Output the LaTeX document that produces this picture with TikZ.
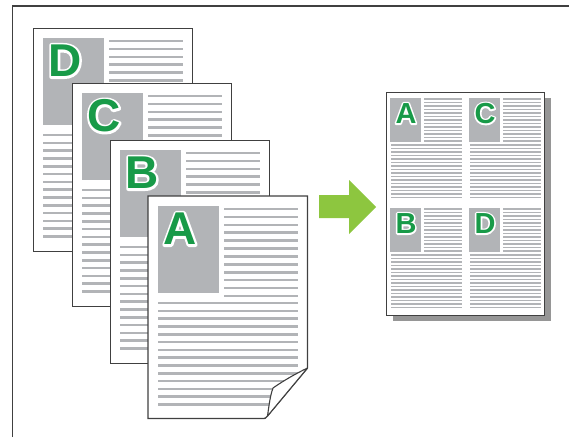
\documentclass[tikz,border=0pt]{standalone}
\usepackage{fontspec}
\setmainfont{Liberation Sans}
\usetikzlibrary{calc}

\definecolor{lettergreen}{RGB}{24,154,72}
\definecolor{arrowgreen}{RGB}{141,198,63}
\definecolor{textgray}{RGB}{178,180,183}
\definecolor{edgegray}{RGB}{64,64,64}
\definecolor{shadowgray}{RGB}{150,150,150}

% green letter with a white rim: name, position, size, rim width, letter
\newcommand{\pageletter}[5]{%
  \node[letter, text=white, font=\fontsize{#3}{#3}\selectfont\bfseries] at (#2)
    {\special{pdf:literal direct 1 1 1 RG #4 w 1 j 2 Tr}#5\special{pdf:literal direct 0 Tr}};
  \node[letter, font=\fontsize{#3}{#3}\selectfont\bfseries] (#1) at (#2) {#5};
}

% one full page of the stack: name, top left, letter
\newcommand{\stackpage}[3]{%
  \begin{scope}[shift={(#2)}]
    \node[page] (#1) at (0,0) {};
    \fill[textgray] (10,10) rectangle (71,97);
    \foreach \k in {0,...,11}
      \draw[textline] (76,13+7.9*\k) -- (150,13+7.9*\k);
    \foreach \k in {0,...,13}
      \draw[textline] (10,107+7.8*\k) -- (150,107+7.8*\k);
    \pageletter{#1letter}{32,33}{46}{4.4}{#3}
  \end{scope}
}

% one quarter of the 4-up page: name, top left, letter
\newcommand{\quarter}[3]{%
  \begin{scope}[shift={(#2)}]
    \fill[textgray] (0,0) rectangle (31,43.5);
    \foreach \k in {0,...,12}
      \draw[thinline] (34,0.9+3.5*\k) -- (72,0.9+3.5*\k);
    \foreach \k in {0,...,15}
      \draw[thinline] (1,47+3.5*\k) -- (72,47+3.5*\k);
    \pageletter{#1}{16,15.5}{29}{3.2}{#3}
  \end{scope}
}

\begin{document}
\begin{tikzpicture}[
  x=1pt, y=-1pt,
  page/.style={draw=edgegray, line width=1.3pt, fill=white, anchor=north west,
               inner sep=0, minimum width=159pt, minimum height=222.5pt},
  textline/.style={textgray, line width=2.6pt},
  thinline/.style={textgray, line width=1.6pt},
  letter/.style={text=lettergreen, inner sep=0},
  frame/.style={edgegray, line width=1.6pt}
]
  \useasboundingbox (0,0) rectangle (569,437);
  \draw[frame] (12.5,437) -- (12.5,6) -- (569,6);

  \stackpage{pageD}{33,28}{D}
  \stackpage{pageC}{72,83}{C}
  \stackpage{pageB}{110,140}{B}

  % front page with the curled corner
  \begin{scope}[shift={(148,196)}]
    \draw[draw=edgegray, line width=1.3pt, fill=white]
      (0,0) -- (159.5,0) -- (159.5,172) -- (119,220.5)
      .. controls (117.5,222.5) .. (113,222.5) -- (0,222.5) -- cycle;
    \begin{scope}
      \clip (0,0) -- (159.5,0) -- (159.5,172) -- (119,220.5) -- (113,222.5) -- (0,222.5) -- cycle;
      \fill[textgray] (10,10) rectangle (71,97);
      \foreach \k in {0,...,11}
        \draw[textline] (76,13+7.9*\k) -- (150,13+7.9*\k);
      \foreach \k in {0,...,13}
        \draw[textline] (10,107+7.8*\k) -- (150,107+7.8*\k);
    \end{scope}
    \draw[draw=edgegray, line width=1.1pt, fill=white, line join=round]
      (159.5,172) .. controls (147,178) and (135,185) .. (125,192)
      .. controls (122,200) and (121,210) .. (119.5,220) -- cycle;
    \pageletter{pageAletter}{32,33}{46}{4.4}{A}
  \end{scope}

  % arrow
  \fill[arrowgreen] (319,195) -- (349,195) -- (349,180) -- (376,207)
    -- (349,234) -- (349,218) -- (319,218) -- cycle;

  % 4-up result
  \fill[shadowgray] (393,98) rectangle (551,321);
  \node[page, minimum width=158pt, minimum height=223pt] (result) at (386,92) {};
  \quarter{resA}{390,98}{A}
  \quarter{resC}{469,98}{C}
  \quarter{resB}{390,208}{B}
  \quarter{resD}{469,208}{D}
\end{tikzpicture}
\end{document}
